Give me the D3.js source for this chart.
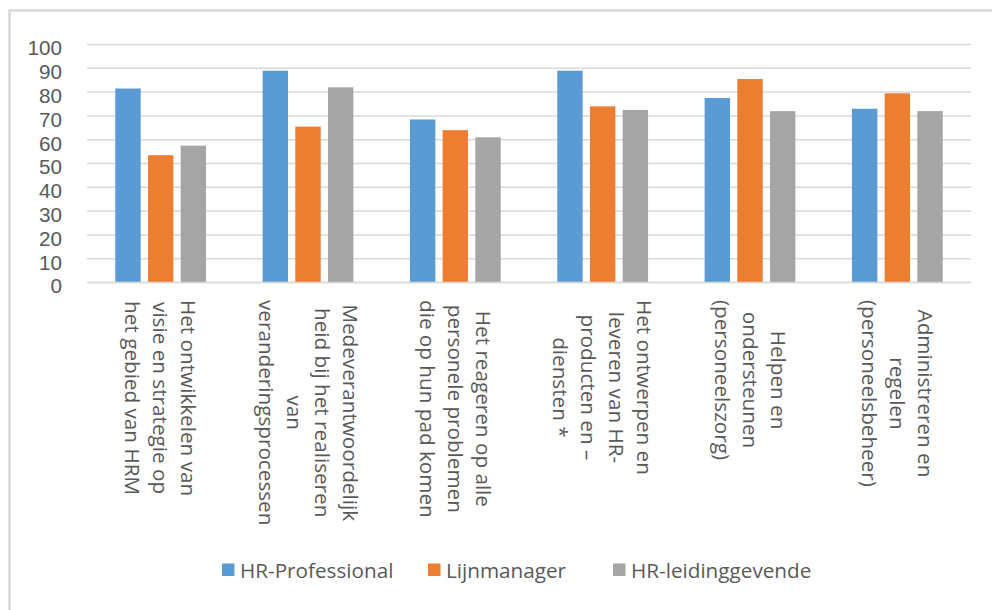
<!DOCTYPE html>
<meta charset="utf-8">
<style>
body {
	margin: 0;
	background: #fff;
}
svg {
	display: block;
	font-family: "Open Sans", sans-serif;
}
.tick text, .cat text, .legend text {
	fill: #595959;
	font-size: 20.7px;
}
</style>
<body>
<svg></svg>
<script src="https://cdnjs.cloudflare.com/ajax/libs/d3/7.8.5/d3.min.js"></script>
<script>

var categories = [
	["Het ontwikkelen van", "visie en strategie op", "het gebied van HRM"],
	["Medeverantwoordelijk", "heid bij het realiseren", "van", "veranderingsprocessen"],
	["Het reageren op alle", "personele problemen", "die op hun pad komen"],
	["Het ontwerpen en", "leveren van HR-", "producten en \u2013", "diensten *"],
	["Helpen en", "ondersteunen", "(personeelszorg)"],
	["Administreren en", "regelen", "(personeelsbeheer)"]
];
var seriesNames = ["HR-Professional", "Lijnmanager", "HR-leidinggevende"];
var hrProfessional = [81.5, 89, 68.5, 89, 77.5, 73];
var lijnmanager = [53.5, 65.5, 64, 74, 85.5, 79.5];
var hrLeiding = [57.5, 82, 61, 72.5, 72, 72];
var yTicks = [0, 10, 20, 30, 40, 50, 60, 70, 80, 90, 100];

var colors = ["#5B9BD5", "#ED7D31", "#A5A5A5"];
var values = [hrProfessional, lijnmanager, hrLeiding];

var width = 992, height = 610;
var margin = {top: 44.5, right: 21, bottom: 327.5, left: 87};

var svg = d3.select("svg")
	.attr("width", width)
	.attr("height", height);

// chart frame, runs off the right and bottom edge
svg.append("rect")
	.attr("x", 9.5)
	.attr("y", 10.5)
	.attr("width", width)
	.attr("height", height)
	.attr("fill", "none")
	.attr("stroke", "#d9d9d9")
	.attr("stroke-width", 2.5);

var idx = d3.range(categories.length);

var x0 = d3.scaleBand()
	.domain(idx)
	.range([margin.left, width - margin.right])
	.paddingInner(0.384)
	.paddingOuter(0.192);

var x1 = d3.scaleBand()
	.domain(d3.range(seriesNames.length))
	.range([0, x0.bandwidth()])
	.paddingInner(0.223);

var y = d3.scaleLinear()
	.domain([0, 100])
	.range([height - margin.bottom, margin.top]);

// gridlines
svg.append("g")
	.selectAll("line")
	.data(yTicks)
	.join("line")
	.attr("x1", margin.left)
	.attr("x2", width - margin.right)
	.attr("y1", function(d) { return y(d); })
	.attr("y2", function(d) { return y(d); })
	.attr("stroke", "#d9d9d9")
	.attr("stroke-width", 1.5);

var yaxis = d3.axisLeft(y)
	.tickValues(yTicks)
	.tickSize(0)
	.tickPadding(25);

svg.append("g")
	.attr("class", "y axis")
	.attr("transform", "translate(" + margin.left + ",0)")
	.call(yaxis)
	.call(function(g) { g.select(".domain").remove(); })
	.selectAll("text")
	.attr("dy", "0.5em");

// bars
var groups = svg.append("g")
	.selectAll("g")
	.data(idx)
	.join("g")
	.attr("transform", function(i) { return "translate(" + x0(i) + ",0)"; });

groups.selectAll("rect")
	.data(function(i) { return values.map(function(v, s) { return {s: s, v: v[i]}; }); })
	.join("rect")
	.attr("x", function(d) { return x1(d.s); })
	.attr("y", function(d) { return y(d.v); })
	.attr("width", x1.bandwidth())
	.attr("height", function(d) { return y(0) - y(d.v); })
	.attr("fill", function(d) { return colors[d.s]; });

// baseline
svg.append("line")
	.attr("x1", margin.left)
	.attr("x2", width - margin.right)
	.attr("y1", y(0))
	.attr("y2", y(0))
	.attr("stroke", "#d9d9d9")
	.attr("stroke-width", 1.5);

// rotated category labels
var lineH = 28;
var labelTop = 300;
idx.forEach(function(i) {
	var lines = categories[i];
	var g = svg.append("g")
		.attr("class", "cat")
		.attr("transform", "translate(" + (x0(i) + x0.bandwidth() / 2) + "," + labelTop + ") rotate(90)");
	var texts = g.selectAll("text")
		.data(lines)
		.join("text")
		.attr("text-anchor", "middle")
		.attr("y", function(d, j) { return (j - (lines.length - 1) / 2) * lineH; })
		.attr("dy", "0.35em")
		.text(function(d) { return d; });
	var maxLen = d3.max(texts.nodes(), function(n) { return n.getComputedTextLength(); });
	texts.attr("x", maxLen / 2);
});

// legend
var legend = svg.append("g").attr("class", "legend");
var legendX = [222, 428, 613];
seriesNames.forEach(function(name, s) {
	legend.append("rect")
		.attr("x", legendX[s])
		.attr("y", 563.5)
		.attr("width", 12.5)
		.attr("height", 12.5)
		.attr("fill", colors[s]);
	legend.append("text")
		.attr("x", legendX[s] + 18)
		.attr("y", 578)
		.text(name);
});

</script>
</body>
